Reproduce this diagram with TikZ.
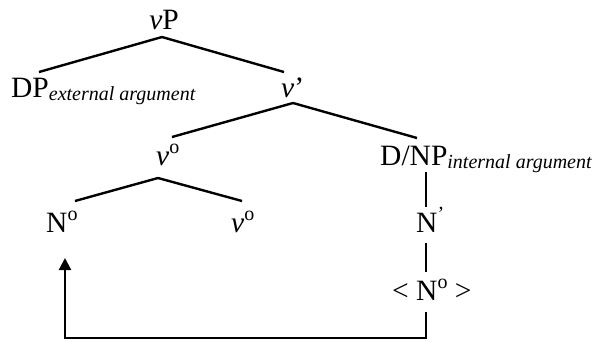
\documentclass[tikz,border=0pt]{standalone}
\usepackage{fontspec}
\setmainfont{Liberation Serif}[
  ItalicFont={Liberation Serif Italic},
  BoldFont={Liberation Serif Bold}]
\usetikzlibrary{arrows.meta}

\newcommand\subtxt[1]{\raisebox{-3.5pt}{\fontsize{20}{20}\selectfont\itshape #1}}
\newcommand\supmark[1]{\raisebox{12pt}{\fontsize{20}{20}\selectfont #1}}

\begin{document}
\begin{tikzpicture}[
  x=1pt,y=-1pt,
  lbl/.style={inner sep=0pt,font=\fontsize{29.5}{30}\selectfont},
  edge/.style={line width=2.4pt,black},
  move/.style={line width=2.2pt,black,-{Triangle[length=12pt,width=12pt]}},
]
\useasboundingbox (0,0) rectangle (594,341);

\node[lbl,anchor=base] (vp) at (164,29) {\textit{v}P};
\node[lbl,anchor=base west] (dp) at (11,97) {DP\subtxt{external argument}};
\node[lbl,anchor=base west] (vbar) at (281,97) {\textit{v}’};
\node[lbl,anchor=base west] (vzero) at (156,165) {\textit{v}\supmark{o}};
\node[lbl,anchor=base west] (dnp) at (380,165) {D/NP\subtxt{internal argument}};
\node[lbl,anchor=base west] (nzero) at (46,232) {N\supmark{o}};
\node[lbl,anchor=base west] (vzerob) at (231,232) {\textit{v}\supmark{o}};
\node[lbl,anchor=base west] (nbar) at (416,232) {N\supmark{’}};
\node[lbl,anchor=base west] (ntrace) at (392,300) {< N\supmark{o} >};

% tree branches
\draw[edge] ([shift={(-2,8)}]vp.base) -- ([shift={(28,-25)}]dp.base west);
\draw[edge] ([shift={(-2,8)}]vp.base) -- ([shift={(3,-25)}]vbar.base west);
\draw[edge] ([shift={(12,6)}]vbar.base west) -- ([shift={(16,-28)}]vzero.base west);
\draw[edge] ([shift={(12,6)}]vbar.base west) -- ([shift={(37,-27)}]dnp.base west);
\draw[edge] ([shift={(2,13)}]vzero.base west) -- ([shift={(29,-31)}]nzero.base west);
\draw[edge] ([shift={(2,13)}]vzero.base west) -- ([shift={(11,-31)}]vzerob.base west);
\draw[edge] ([shift={(46,7)}]dnp.base west) -- ([shift={(10,-25)}]nbar.base west);
\draw[edge] ([shift={(10,11)}]nbar.base west) -- ([shift={(34,-28)}]ntrace.base west);

% head movement
\draw[move] ([shift={(34,12)}]ntrace.base west) |- ([shift={(19,106)}]nzero.base west)
  -- ([shift={(19,26)}]nzero.base west);
\end{tikzpicture}
\end{document}
